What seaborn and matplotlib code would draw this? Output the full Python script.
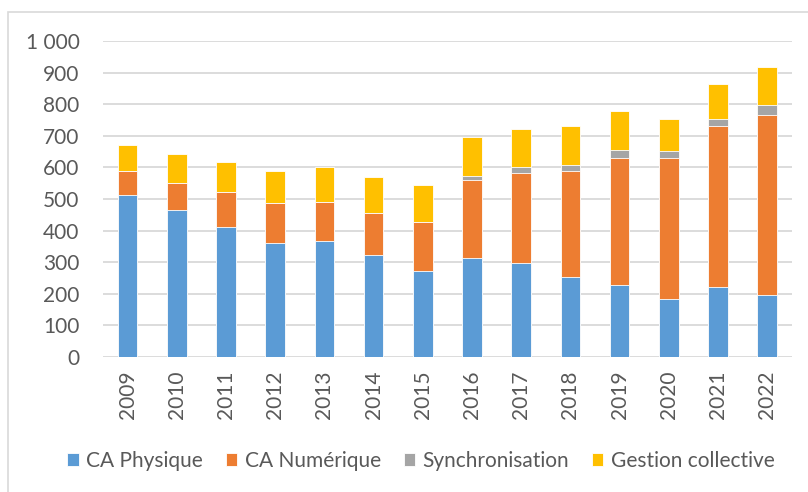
import pandas as pd
import numpy as np
import matplotlib
matplotlib.use("Agg")
import matplotlib.pyplot as plt
from matplotlib.patches import Rectangle
import seaborn as sns

years = [str(y) for y in range(2009, 2023)]
ca_physique = [512, 465, 412, 362, 366, 323, 273, 312, 299, 254, 228, 183, 221, 195]
ca_numerique = [75, 87, 110, 126, 126, 133, 153, 247, 282, 334, 403, 446, 509, 570]
synchronisation = [0, 0, 0, 0, 0, 0, 0, 15, 20, 21, 23, 23, 23, 31]
gestion_collective = [83, 89, 95, 101, 110, 113, 117, 121, 120, 123, 125, 102, 110, 123]

series = ["CA Physique", "CA Numérique", "Synchronisation", "Gestion collective"]
colors = ["#5B9BD5", "#ED7D31", "#A5A5A5", "#FFC000"]

df = pd.DataFrame({
    "year": years,
    "CA Physique": ca_physique,
    "CA Numérique": ca_numerique,
    "Synchronisation": synchronisation,
    "Gestion collective": gestion_collective,
})
cum = df[series].cumsum(axis=1)
cum["year"] = df["year"]

sns.set_style("white")
plt.rcParams["font.family"] = ["Lato", "DejaVu Sans"]
text_col = "#595959"

fig = plt.figure(figsize=(8.08, 4.92), dpi=100)
ax = fig.add_axes([0.1275, 0.2744, 0.8525, 0.6423])

# stacked bars: draw cumulative totals from the top series down
for name, col in reversed(list(zip(series, colors))):
    sns.barplot(data=cum, x="year", y=name, color=col, width=0.4, saturation=1,
                edgecolor="white", linewidth=0.6, ax=ax, label=name, zorder=3)
if ax.legend_ is not None:
    ax.legend_.remove()

ax.set_ylim(0, 1000)
ax.set_yticks(range(0, 1001, 100))
ax.set_yticklabels([f"{v:,}".replace(",", " ") for v in range(0, 1001, 100)])
ax.yaxis.grid(True, color="#D9D9D9", linewidth=1.3, zorder=0)
ax.set_axisbelow(True)
for s in ax.spines.values():
    s.set_visible(False)
ax.set_xlabel("")
ax.set_ylabel("")
ax.tick_params(axis="both", length=0, labelsize=15, colors=text_col)
ax.tick_params(axis="y", pad=17)
ax.tick_params(axis="x", pad=10)
plt.setp(ax.get_xticklabels(), rotation=90)

handles, labels = ax.get_legend_handles_labels()
order = [labels.index(s) for s in series]
fig.legend([handles[i] for i in order], series, loc="center",
           bbox_to_anchor=(0.521, 0.063), ncol=4, frameon=False,
           fontsize=15, labelcolor=text_col, handlelength=0.55, handleheight=0.55,
           handletextpad=0.35, columnspacing=1.1)

fig.patches.append(Rectangle((8 / 808, -0.1), 1.2, 0.1 + 1 - 12 / 492,
                             transform=fig.transFigure, fill=False,
                             edgecolor="#D9D9D9", linewidth=1.2))

fig.savefig("out.png", dpi=100)
